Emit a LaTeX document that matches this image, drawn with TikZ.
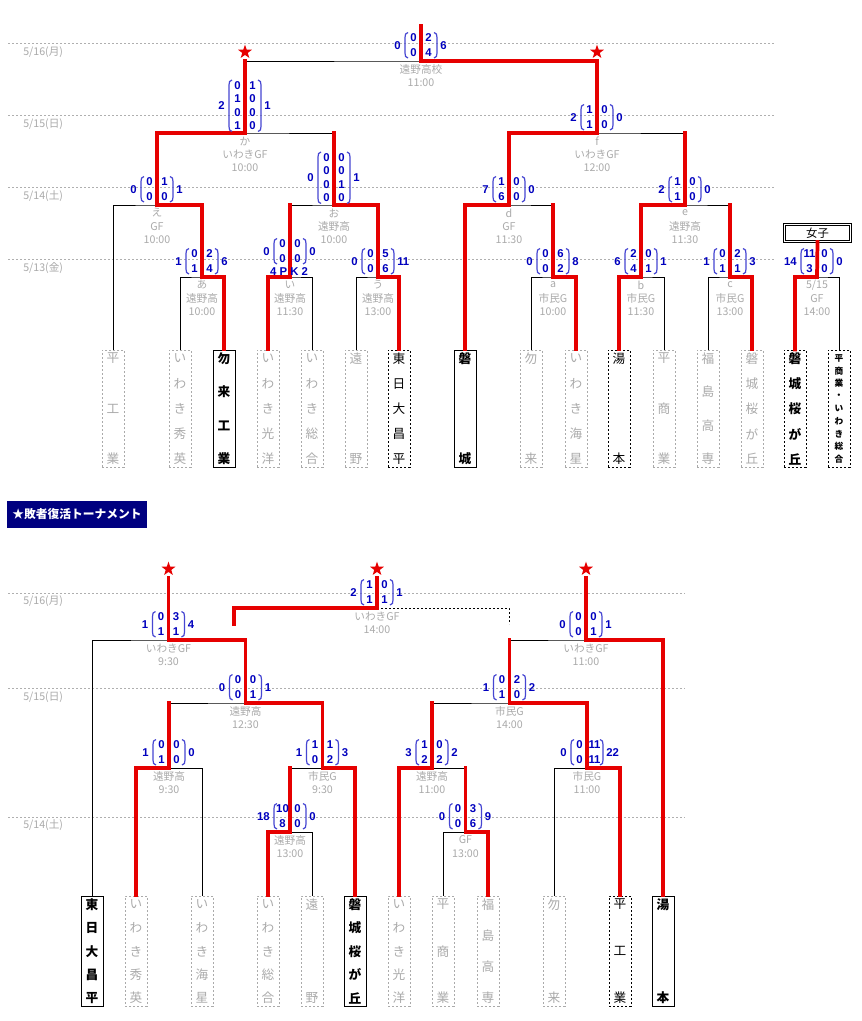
\documentclass[tikz,border=0pt]{standalone}
\usepackage{fontspec}
\setmainfont{Noto Sans CJK JP}
\newfontfamily\numfont{Liberation Sans}
\usetikzlibrary{shapes.geometric}
\definecolor{redc}{RGB}{230,0,0}
\definecolor{grayt}{RGB}{170,170,170}
\definecolor{gridc}{RGB}{175,175,175}
\definecolor{numc}{RGB}{0,0,190}
\definecolor{parc}{RGB}{70,70,210}
\definecolor{navyc}{RGB}{0,0,128}
\tikzset{
  thinl/.style={draw=black, line width=0.75pt},
  dashl/.style={draw=black, line width=0.75pt, dash pattern=on 1.8pt off 1.2pt},
  redl/.style={draw=redc, line width=2.8pt, line cap=rect},
  gridl/.style={draw=gridc, line width=0.75pt, dash pattern=on 1.5pt off 1.5pt},
  lbl/.style={text=grayt, font=\fontsize{8}{8}\selectfont, inner sep=0},
  sc/.style={text=numc, font=\numfont\bfseries\fontsize{8.5}{9}\selectfont, inner sep=0},
  parl/.style={draw=parc, line width=0.9pt},
  gbox/.style={draw=grayt, dash pattern=on 1.5pt off 1.5pt, line width=0.75pt, minimum width=16.5pt, inner sep=0},
  kbox/.style={draw=black, line width=0.75pt, minimum width=16.5pt, inner sep=0},
  dbox/.style={draw=black, dash pattern=on 1.5pt off 1.5pt, line width=0.75pt, minimum width=16.5pt, inner sep=0},
  hT/.style={minimum height=87.75pt},
  hB/.style={minimum height=82.5pt},
  gch/.style={text=grayt, font=\fontsize{9.5}{9.5}\selectfont, inner sep=0},
  kch/.style={text=black, font=\bfseries\fontsize{9.5}{9.5}\selectfont, inner sep=0},
  nch/.style={text=black, font=\fontsize{9.5}{9.5}\selectfont, inner sep=0},
  sch/.style={text=black, font=\bfseries\fontsize{6.5}{6.5}\selectfont, inner sep=0},
  datel/.style={text=grayt, font=\fontsize{8}{8}\selectfont, anchor=west, inner sep=0},
  starn/.style={star, star points=5, star point ratio=2.5, fill=redc, draw=none, minimum size=11pt, inner sep=0},
}
\newcommand{\team}[8]{%
  \node[#5] (#1) at (#2,{(#3+#4)/2}) {};
  \foreach \ch [count=\i] in {#8} {%
    \node[#6] (#1-\i) at (#2,{#3+8.5+(\i-1)*(#4-#3-16.5)/(#7-1)}) {\ch};
  }%
}
\newcommand{\mlabel}[4]{%
  \foreach \tx [count=\i] in {#4} {%
    \node[lbl] (#1-t\i) at ({#2},{#3+8+(\i-1)*13.5}) {\tx};
  }%
}
\newcommand{\scoremat}[7]{%
  \pgfmathsetmacro\scS{15.5-0.5*#4}%
  \pgfmathsetmacro\scYb{#3-(10-0.75*#4)}%
  \pgfmathsetmacro\scYt{\scYb-(#4-1)*\scS}%
  \pgfmathsetmacro\scYm{(\scYt+\scYb)/2}%
  \pgfmathsetmacro\scPt{\scYt-5.5}%
  \pgfmathsetmacro\scPb{\scYb+5.5}%
  \foreach \va/\vb [count=\i] in {#7} {%
    \node[sc] (#1-a\i) at ({#2-7.5},{\scYt+(\i-1)*\scS}) {\va};
    \node[sc] (#1-b\i) at ({#2+7.5},{\scYt+(\i-1)*\scS}) {\vb};
  }%
  \node[sc,anchor=east] (#1-L) at ({#2-20},{\scYm}) {#5};
  \node[sc,anchor=west] (#1-R) at ({#2+19},{\scYm}) {#6};
  \draw[parl] ({#2-13},{\scPt}) .. controls ({#2-15.5},{\scPt+0.5}) and ({#2-16},{\scPt+2}) .. ({#2-16},{\scPt+5}) -- ({#2-16},{\scPb-5}) .. controls ({#2-16},{\scPb-2}) and ({#2-15.5},{\scPb-0.5}) .. ({#2-13},{\scPb});
  \draw[parl] ({#2+13},{\scPt}) .. controls ({#2+15.5},{\scPt+0.5}) and ({#2+16},{\scPt+2}) .. ({#2+16},{\scPt+5}) -- ({#2+16},{\scPb-5}) .. controls ({#2+16},{\scPb-2}) and ({#2+15.5},{\scPb-0.5}) .. ({#2+13},{\scPb});
}
\begin{document}
\begin{tikzpicture}[x=0.75pt,y=-0.75pt]
\useasboundingbox (0,0) rectangle (862,1021);
\fill[white] (0,0) rectangle (862,1021);
% ---------- grid ----------
\draw[gridl] (8,43) -- (775,43);
\draw[gridl] (8,115) -- (775,115);
\draw[gridl] (8,187) -- (775,187);
\draw[gridl] (8,259) -- (775,259);
\node[datel] (dt1) at (23,52) {5/16(月)};
\node[datel] (dt2) at (23,124) {5/15(日)};
\node[datel] (dt3) at (23,196) {5/14(土)};
\node[datel] (dt4) at (23,268) {5/13(金)};
\draw[gridl] (8,593) -- (685,593);
\draw[gridl] (8,688) -- (685,688);
\draw[gridl] (8,817) -- (685,817);
\node[datel] (db1) at (23,601) {5/16(月)};
\node[datel] (db2) at (23,697) {5/15(日)};
\node[datel] (db3) at (23,825) {5/14(土)};
% ---------- top teams ----------
\team{T1}{113}{350}{467}{gbox,hT}{gch}{3}{平,工,業}
\team{T2}{180}{350}{467}{gbox,hT}{gch}{5}{い,わ,き,秀,英}
\team{T3}{224}{350}{467}{kbox,hT}{kch}{4}{勿,来,工,業}
\team{T4}{268}{350}{467}{gbox,hT}{gch}{5}{い,わ,き,光,洋}
\team{T5}{312}{350}{467}{gbox,hT}{gch}{5}{い,わ,き,総,合}
\team{T6}{356}{350}{467}{gbox,hT}{gch}{2}{遠,野}
\team{T7}{399}{350}{467}{dbox,hT}{nch}{5}{東,日,大,昌,平}
\team{T8}{465}{350}{467}{kbox,hT}{kch}{2}{磐,城}
\team{T9}{531}{350}{467}{gbox,hT}{gch}{2}{勿,来}
\team{T10}{576}{350}{467}{gbox,hT}{gch}{5}{い,わ,き,海,星}
\team{T11}{619}{350}{467}{dbox,hT}{nch}{2}{湯,本}
\team{T12}{664}{350}{467}{gbox,hT}{gch}{3}{平,商,業}
\team{T13}{708}{350}{467}{gbox,hT}{gch}{4}{福,島,高,専}
\team{T14}{752}{350}{467}{gbox,hT}{gch}{5}{磐,城,桜,が,丘}
\team{T15}{795}{350}{467}{dbox,hT}{kch}{5}{磐,城,桜,が,丘}
\team{T16}{839}{350}{467}{dbox,hT}{sch}{9}{平,商,業,・,い,わ,き,総,合}
\node[draw=black, double, line width=0.75pt, double distance=0.75pt, minimum width=49pt, minimum height=12.75pt, inner sep=0, font=\fontsize{8.5}{8.5}\selectfont] (jbox) at (817.5,233) {女子};
% ---------- top matches ----------
\coordinate (mA) at (202,277);
\coordinate (mI) at (290,277);
\coordinate (mU) at (378,277);
\coordinate (ma) at (553,277);
\coordinate (mb) at (641,277);
\coordinate (mc) at (730,277);
\coordinate (mW) at (817,277);
\coordinate (mE) at (157,205);
\coordinate (mO) at (334,205);
\coordinate (md) at (509,205);
\coordinate (me) at (685,205);
\coordinate (mK) at (245,133);
\coordinate (mF) at (597,133);
\coordinate (mX) at (421,61);
\coordinate (topend) at (421,26);
\draw[thinl] (T2.north) |- (mA) -| (T3.north);
\draw[thinl] (T4.north) |- (mI) -| (T5.north);
\draw[thinl] (T6.north) |- (mU) -| (T7.north);
\draw[thinl] (T9.north) |- (ma) -| (T10.north);
\draw[thinl] (T11.north) |- (mb) -| (T12.north);
\draw[thinl] (T13.north) |- (mc) -| (T14.north);
\draw[thinl] (T15.north) |- (mW) -| (T16.north);
\draw[thinl] (T1.north) |- (mE) -| (mA);
\draw[thinl] (mI) |- (mO) -| (mU);
\draw[thinl] (T8.north) |- (md) -| (ma);
\draw[thinl] (mb) |- (me) -| (mc);
\draw[thinl] (mE) |- (mK) -| (mO);
\draw[thinl] (md) |- (mF) -| (me);
\draw[thinl] (mK) |- (mX) -| (mF);
\draw[redl] (T3.north) |- (mA);
\draw[redl] (T4.north) |- (mI);
\draw[redl] (T7.north) |- (mU);
\draw[redl] (T10.north) |- (ma);
\draw[redl] (T11.north) |- (mb);
\draw[redl] (T14.north) |- (mc);
\draw[redl] (T15.north) |- (mW) -- (jbox.south);
\draw[redl] (mA) |- (mE);
\draw[redl] (mU) |- (mO);
\draw[redl] (mI) -- (mI |- mO);
\draw[redl] (T8.north) |- (md);
\draw[redl] (ma) -- (ma |- md);
\draw[redl] (mb) |- (me);
\draw[redl] (mc) -- (mc |- me);
\draw[redl] (mE) |- (mK);
\draw[redl] (mO) -- (mO |- mK);
\draw[redl] (md) |- (mF);
\draw[redl] (me) -- (me |- mF);
\draw[redl] (mF) |- (mX) -- (topend);
\draw[redl] (mK) -- (mK |- mX);
\node[starn] (st1) at (245,52) {};
\node[starn] (st2) at (597,52) {};
% scores top
\scoremat{sX}{421}{61}{2}{0}{6}{0/2,0/4}
\scoremat{sK}{245}{133}{4}{2}{1}{0/1,1/0,0/0,1/0}
\scoremat{sF}{597}{133}{2}{2}{0}{1/0,1/0}
\scoremat{sE}{157}{205}{2}{0}{1}{0/1,0/0}
\scoremat{sO}{334}{205}{4}{0}{1}{0/0,0/0,0/1,0/0}
\scoremat{sd}{509}{205}{2}{7}{0}{1/0,6/0}
\scoremat{se}{685}{205}{2}{2}{0}{1/0,1/0}
\scoremat{sA}{202}{277}{2}{1}{6}{0/2,1/4}
\scoremat{sI}{290}{267}{2}{0}{0}{0/0,0/0}
\node[sc] (pk) at (289,272) {4 P K 2};
\scoremat{sU}{378}{277}{2}{0}{11}{0/5,0/6}
\scoremat{sa}{553}{277}{2}{0}{8}{0/6,0/2}
\scoremat{sb}{641}{277}{2}{6}{1}{2/0,4/1}
\scoremat{sc}{730}{277}{2}{1}{3}{0/2,1/1}
\scoremat{sW}{817}{277}{2}{14}{0}{11/0,3/0}
% labels top
\mlabel{lX}{421}{61}{遠野高校,11:00}
\mlabel{lK}{245}{133}{か,いわきGF,10:00}
\mlabel{lF}{597}{133}{f,いわきGF,12:00}
\mlabel{lE}{157}{205}{え,GF,10:00}
\mlabel{lO}{334}{205}{お,遠野高,10:00}
\mlabel{ld}{509}{205}{d,GF,11:30}
\mlabel{le}{685}{205}{e,遠野高,11:30}
\mlabel{lA}{202}{277}{あ,遠野高,10:00}
\mlabel{lI}{290}{277}{い,遠野高,11:30}
\mlabel{lU}{378}{277}{う,遠野高,13:00}
\mlabel{la}{553}{277}{a,市民G,10:00}
\mlabel{lb}{641}{277}{b,市民G,11:30}
\mlabel{lc}{730}{277}{c,市民G,13:00}
\mlabel{lW}{817}{277}{5/15,GF,14:00}
% ---------- heading ----------
\node[fill=navyc, text=white, font=\bfseries\fontsize{8.8}{8.8}\selectfont, minimum width=105pt, minimum height=20.25pt, inner sep=0] (hdr) at (77,514.5) {★敗者復活トーナメント};
% ---------- bottom teams ----------
\team{B1}{92}{896}{1006}{kbox,hB}{kch}{5}{東,日,大,昌,平}
\team{B2}{136}{896}{1006}{gbox,hB}{gch}{5}{い,わ,き,秀,英}
\team{B3}{202}{896}{1006}{gbox,hB}{gch}{5}{い,わ,き,海,星}
\team{B4}{268}{896}{1006}{gbox,hB}{gch}{5}{い,わ,き,総,合}
\team{B5}{312}{896}{1006}{gbox,hB}{gch}{2}{遠,野}
\team{B6}{355}{896}{1006}{kbox,hB}{kch}{5}{磐,城,桜,が,丘}
\team{B7}{399}{896}{1006}{gbox,hB}{gch}{5}{い,わ,き,光,洋}
\team{B8}{443}{896}{1006}{gbox,hB}{gch}{3}{平,商,業}
\team{B9}{488}{896}{1006}{gbox,hB}{gch}{4}{福,島,高,専}
\team{B10}{554}{896}{1006}{gbox,hB}{gch}{2}{勿,来}
\team{B11}{620}{896}{1006}{dbox,hB}{nch}{3}{平,工,業}
\team{B12}{663}{896}{1006}{kbox,hB}{kch}{2}{湯,本}
% ---------- bottom matches ----------
\coordinate (mL1) at (290,832);
\coordinate (mL2) at (465.5,832);
\coordinate (mM1) at (169,768);
\coordinate (mM2) at (322.5,768);
\coordinate (mM3) at (432,768);
\coordinate (mM4) at (587,768);
\coordinate (mN1) at (245.5,703);
\coordinate (mN2) at (509.5,703);
\coordinate (mP1) at (168.5,640);
\coordinate (mP2) at (586,640);
\coordinate (mZ) at (377,608);
\coordinate (zl) at (234,624);
\coordinate (zr) at (509,624);
\coordinate (sp1) at (168.5,578);
\coordinate (sp2) at (586,578);
\coordinate (sz) at (377,578);
\draw[thinl] (B4.north) |- (mL1) -| (B5.north);
\draw[thinl] (B8.north) |- (mL2) -| (B9.north);
\draw[thinl] (B2.north) |- (mM1) -| (B3.north);
\draw[thinl] (mL1) |- (mM2) -| (B6.north);
\draw[thinl] (B7.north) |- (mM3) -| (mL2);
\draw[thinl] (B10.north) |- (mM4) -| (B11.north);
\draw[thinl] (mM1) |- (mN1) -| (mM2);
\draw[thinl] (mM3) |- (mN2) -| (mM4);
\draw[thinl] (B1.north) |- (mP1) -| (mN1);
\draw[thinl] (mN2) |- (mP2) -| (B12.north);
\draw[dashl] (mZ) -| (zr);
\draw[redl] (B4.north) |- (mL1);
\draw[redl] (B9.north) |- (mL2);
\draw[redl] (B2.north) |- (mM1);
\draw[redl] (B6.north) |- (mM2);
\draw[redl] (mL1) -- (mL1 |- mM2);
\draw[redl] (B7.north) |- (mM3);
\draw[redl] (mL2) -- (mL2 |- mM3);
\draw[redl] (B11.north) |- (mM4);
\draw[redl] (mM2) |- (mN1);
\draw[redl] (mM1) -- (mM1 |- mN1);
\draw[redl] (mM4) |- (mN2);
\draw[redl] (mM3) -- (mM3 |- mN2);
\draw[redl] (mN1) |- (mP1) -- (sp1);
\draw[redl] (B12.north) |- (mP2) -- (sp2);
\draw[redl] (mN2) -- (mN2 |- mP2);
\draw[redl] (zl) |- (mZ) -- (sz);
\node[starn] (st3) at (168.5,569) {};
\node[starn] (st4) at (377,569) {};
\node[starn] (st5) at (586,569) {};
% scores bottom
\scoremat{tZ}{377}{608}{2}{2}{1}{1/0,1/1}
\scoremat{tP1}{168.5}{640}{2}{1}{4}{0/3,1/1}
\scoremat{tP2}{586}{640}{2}{0}{1}{0/0,0/1}
\scoremat{tN1}{245.5}{703}{2}{0}{1}{0/0,0/1}
\scoremat{tN2}{509.5}{703}{2}{1}{2}{0/2,1/0}
\scoremat{tM1}{169}{768}{2}{1}{0}{0/0,1/0}
\scoremat{tM2}{322.5}{768}{2}{1}{3}{1/1,0/2}
\scoremat{tM3}{432}{768}{2}{3}{2}{1/0,2/2}
\scoremat{tM4}{587}{768}{2}{0}{22}{0/11,0/11}
\scoremat{tL1}{290}{832}{2}{18}{0}{10/0,8/0}
\scoremat{tL2}{465.5}{832}{2}{0}{9}{0/3,0/6}
% labels bottom
\mlabel{uZ}{377}{608}{いわきGF,14:00}
\mlabel{uP1}{168.5}{640}{いわきGF,9:30}
\mlabel{uP2}{586}{640}{いわきGF,11:00}
\mlabel{uN1}{245.5}{703}{遠野高,12:30}
\mlabel{uN2}{509.5}{703}{市民G,14:00}
\mlabel{uM1}{169}{768}{遠野高,9:30}
\mlabel{uM2}{322.5}{768}{市民G,9:30}
\mlabel{uM3}{432}{768}{遠野高,11:00}
\mlabel{uM4}{587}{768}{市民G,11:00}
\mlabel{uL1}{290}{832}{遠野高,13:00}
\mlabel{uL2}{465.5}{832}{GF,13:00}
\end{tikzpicture}
\end{document}
